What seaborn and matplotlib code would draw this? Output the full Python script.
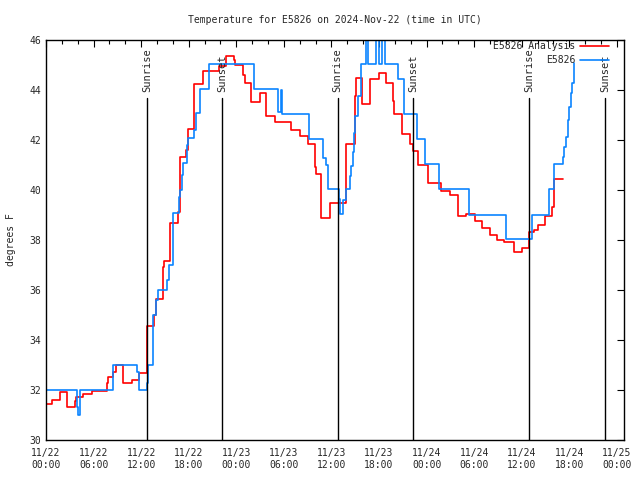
import matplotlib
matplotlib.use("Agg")
import matplotlib.pyplot as plt
import matplotlib.dates as mdates
import matplotlib.transforms as mtransforms
import seaborn as sns
import pandas as pd
import numpy as np

sns.set_theme(style="white")
plt.rcParams['font.family'] = ['DejaVu Sans Mono']
plt.rcParams['font.size'] = 7

start = pd.Timestamp("2024-11-22 00:00")

# analysis (red) - step changes, hours since start
ana_hours = [0.0, 0.72, 1.76, 2.68, 3.65, 3.78, 4.66, 5.76, 7.72, 7.85, 8.4, 8.82,
             9.74, 10.79, 11.71, 12.68, 12.76, 13.6, 13.85, 14.7, 14.86, 15.7, 16.66,
             16.88, 17.72, 17.92, 18.68, 19.81, 21.83, 22.76, 23.68, 23.8, 24.85, 25.06,
             25.9, 26.95, 27.8, 28.93, 30.94, 31.99, 33.0, 33.88, 34.09, 34.72, 35.77,
             37.78, 37.87, 38.92, 39.1, 39.84, 40.87, 41.98, 42.82, 43.74, 43.95, 44.92,
             45.93, 46.35, 46.98, 48.24, 49.84, 51.01, 52.02, 52.98, 54.12, 54.95, 56.01,
             56.93, 57.81, 59.07, 59.99, 60.96, 61.59, 62.0, 62.93, 63.77, 64.02, 65.15]
ana_temp = [31.45, 31.6, 31.9, 31.3, 31.55, 31.7, 31.85, 31.96, 32.3, 32.5, 32.7, 33.0,
            32.3, 32.4, 32.67, 33.1, 34.56, 35.0, 35.64, 36.9, 37.16, 38.67, 39.1,
            41.33, 41.6, 42.44, 44.25, 44.77, 44.95, 45.37, 45.2, 45.0, 44.6, 44.3,
            43.53, 43.87, 42.95, 42.7, 42.4, 42.16, 41.83, 40.9, 40.63, 38.88, 39.47,
            40.7, 41.83, 43.76, 44.49, 43.43, 44.43, 44.67, 44.27, 43.56, 43.03, 42.23,
            41.84, 41.56, 41.0, 40.27, 39.97, 39.8, 38.96, 39.05, 38.77, 38.47, 38.2,
            38.0, 37.93, 37.53, 37.67, 38.3, 38.4, 38.6, 38.96, 39.3, 40.43, 40.43]

# observations (blue)
obs_hours = [0.0, 3.87, 4.07, 4.23, 8.4, 11.5, 11.71, 12.68, 12.81, 12.88, 13.51, 13.85,
             14.14, 15.28, 15.53, 16.03, 16.79, 16.88, 17.09, 17.22, 17.8, 17.92, 18.64,
             18.98, 19.4, 20.57, 26.23, 29.26, 29.66, 29.79, 33.16, 34.89, 35.35, 35.55,
             36.94, 37.03, 37.41, 37.78, 38.38, 38.5, 38.7, 38.79, 38.92, 39.33, 39.76,
             40.3, 40.63, 41.56, 41.94, 42.44, 42.78, 44.37, 45.21, 46.76, 47.86, 49.62,
             53.4, 58.02, 61.3, 63.39, 64.11, 65.15, 65.37, 65.58, 65.78, 65.99, 66.21,
             66.33, 66.54, 66.56]
obs_temp = [32.0, 31.3, 31.0, 32.0, 33.0, 32.7, 32.0, 32.3, 32.8, 33.0, 35.0, 35.6,
            36.0, 36.4, 37.0, 39.07, 39.73, 40.0, 40.6, 41.07, 41.8, 42.07, 42.4,
            43.07, 44.03, 45.03, 44.03, 43.1, 44.0, 43.03, 42.03, 41.27, 41.0, 40.03,
            39.63, 39.03, 39.6, 40.03, 40.56, 40.96, 41.5, 42.3, 42.96, 43.76, 45.03,
            46.5, 45.03, 46.5, 45.03, 46.5, 45.03, 44.43, 43.03, 42.03, 41.04, 40.03,
            39.0, 38.03, 39.0, 40.03, 41.03, 41.33, 41.73, 42.13, 42.8, 43.33, 43.87,
            44.27, 44.8, 45.07]

sun_hours = [12.72, 22.17, 36.78, 46.35, 60.96, 70.53]
sun_labels = ["Sunrise", "Sunset", "Sunrise", "Sunset", "Sunrise", "Sunset"]

df = pd.concat([
    pd.DataFrame({"time": start + pd.to_timedelta(ana_hours, unit="h"),
                  "temp": ana_temp, "series": "E5826 Analysis"}),
    pd.DataFrame({"time": start + pd.to_timedelta(obs_hours, unit="h"),
                  "temp": obs_temp, "series": "E5826"}),
])

fig = plt.figure(figsize=(6.4, 4.8), dpi=100)
ax = fig.add_axes([46 / 640, 40 / 480, 578 / 640, 400 / 480])

sns.lineplot(data=df, x="time", y="temp", hue="series",
             palette={"E5826 Analysis": "#ff0000", "E5826": "#0a84ff"},
             drawstyle="steps-post", linewidth=1.2, ax=ax, estimator=None, sort=False)

trans = mtransforms.blended_transform_factory(ax.transData, ax.transAxes)
for h, lab in zip(sun_hours, sun_labels):
    t = mdates.date2num(start + pd.Timedelta(hours=h))
    ax.axvline(t, ymin=0, ymax=0.855, color="black", linewidth=1)
    ax.text(t, 0.87, lab, rotation=90, transform=trans, ha="center", va="bottom",
            fontsize=7.5)

ax.set_ylim(30, 46)
ax.set_xlim(start, start + pd.Timedelta(hours=72.9))
ax.set_yticks(np.arange(30, 47, 2))
ax.xaxis.set_major_locator(mdates.HourLocator(byhour=[0, 6, 12, 18]))
ax.xaxis.set_major_formatter(mdates.DateFormatter("%m/%d\n%H:%M"))
ax.xaxis.set_minor_locator(mdates.HourLocator(byhour=range(0, 24, 2)))
ax.tick_params(axis="both", which="both", direction="in", top=True, right=True,
               labelsize=7, color="black")
ax.tick_params(axis="both", which="major", length=5, width=0.8)
ax.tick_params(axis="x", which="minor", length=3, width=0.8)
ax.tick_params(axis="x", which="major", pad=6)
for s in ax.spines.values():
    s.set_color("black")
    s.set_linewidth(1)

ax.set_xlabel("")
ax.set_ylabel("degrees F", fontsize=7)
ax.yaxis.set_label_coords(-0.052, 0.5)
ax.set_title("Temperature for E5826 on 2024-Nov-22 (time in UTC)", fontsize=7, pad=12)
ax.legend(loc="upper right", bbox_to_anchor=(0.985, 1.012), frameon=False,
          markerfirst=False, fontsize=7, handlelength=3.0, handletextpad=0.5,
          borderaxespad=0.2, labelspacing=0.45)

fig.savefig("out.png", dpi=100)
